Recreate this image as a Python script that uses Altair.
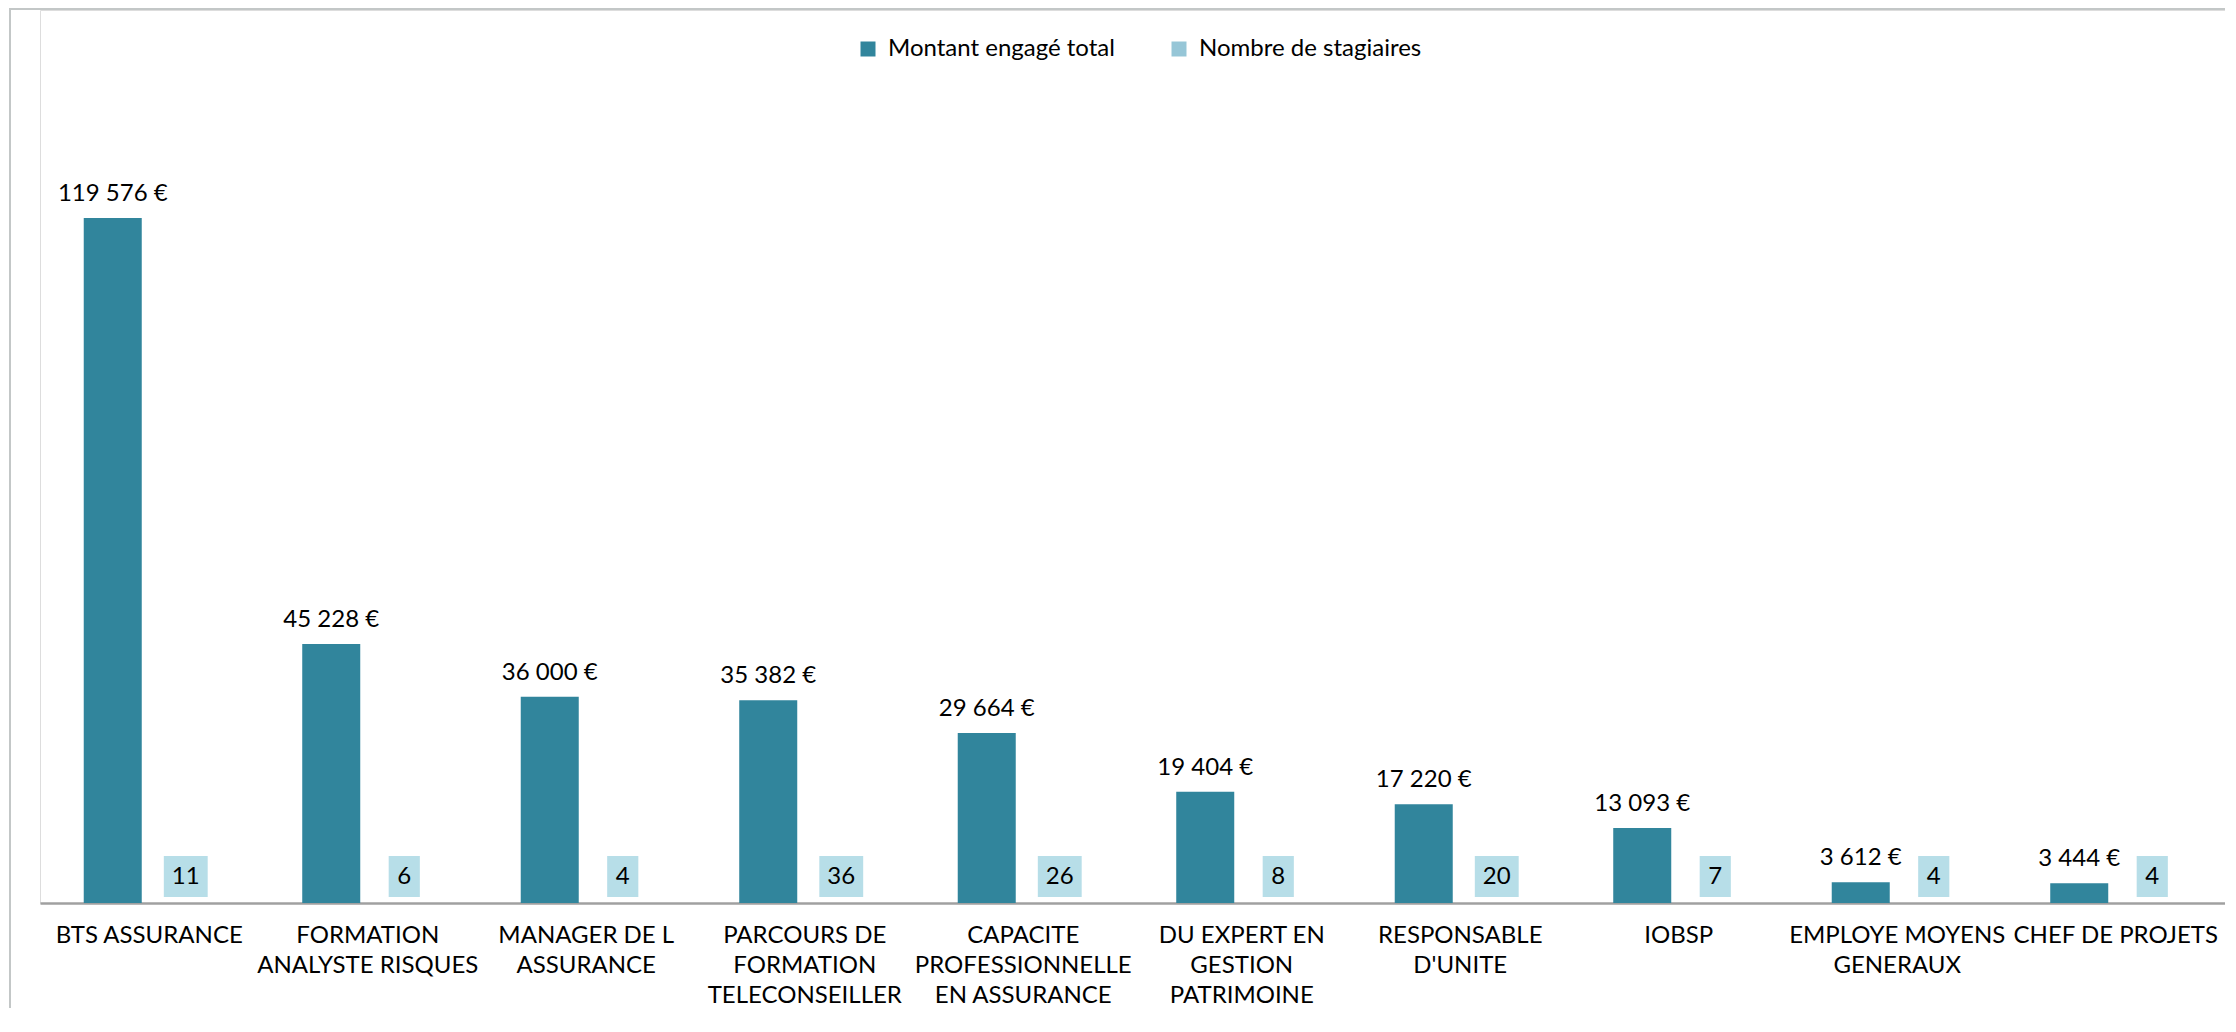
import altair as alt
import pandas as pd

categories = [
    "BTS ASSURANCE",
    "FORMATION|ANALYSTE RISQUES",
    "MANAGER DE L|ASSURANCE",
    "PARCOURS DE|FORMATION|TELECONSEILLER",
    "CAPACITE|PROFESSIONNELLE|EN ASSURANCE",
    "DU EXPERT EN|GESTION|PATRIMOINE",
    "RESPONSABLE|D'UNITE",
    "IOBSP",
    "EMPLOYE MOYENS|GENERAUX",
    "CHEF DE PROJETS",
]
montants = [119576, 45228, 36000, 35382, 29664, 19404, 17220, 13093, 3612, 3444]
stagiaires = [11, 6, 4, 36, 26, 8, 20, 7, 4, 4]
series = ["Montant engagé total", "Nombre de stagiaires"]

rows = []
for c, m, s in zip(categories, montants, stagiaires):
    rows.append({"categorie": c, "serie": series[0], "valeur": m})
    rows.append({"categorie": c, "serie": series[1], "valeur": s})
df = pd.DataFrame(rows)

FONT = "Lato"
DARK = "#31859C"
LIGHT_LEG = "#96C6D7"
BOX = "#B7DEE8"

W, H = 2185, 893
PAD = {"left": 32, "top": 2, "right": 0, "bottom": 105}

x_enc = alt.X(
    "categorie:N",
    sort=categories,
    scale=alt.Scale(domain=categories, paddingInner=0, paddingOuter=0),
    axis=alt.Axis(
        title=None,
        labelAngle=0,
        ticks=False,
        domainColor="#A0A0A0",
        domainWidth=2.5,
        labelFont=FONT,
        labelFontSize=24,
        labelColor="#000000",
        labelPadding=20,
        labelLineHeight=30,
        labelLimit=0,
        labelOverlap=False,
        labelBound=False,
        labelExpr="split(datum.label, '|')",
    ),
)
xoff_enc = alt.XOffset(
    "serie:N",
    scale=alt.Scale(domain=series, paddingInner=0.2055, paddingOuter=0.599),
)
y_scale = alt.Scale(domain=[0, 155900], nice=False, zero=True)

base = alt.Chart(df)

bars = base.transform_filter(alt.datum.serie == series[0]).mark_bar().encode(
    x=x_enc,
    xOffset=xoff_enc,
    y=alt.Y("valeur:Q", scale=y_scale, axis=None),
    color=alt.Color(
        "serie:N",
        scale=alt.Scale(domain=series, range=[DARK, LIGHT_LEG]),
        legend=alt.Legend(
            title=None,
            orient="none",
            direction="horizontal",
            legendX=816,
            legendY=27,
            symbolType="square",
            symbolSize=225,
            symbolStrokeWidth=0,
            symbolOpacity=1,
            labelFont=FONT,
            labelFontSize=24,
            labelColor="#000000",
            labelOffset=8,
            labelLimit=0,
            columnPadding=52,
            padding=0,
        ),
    ),
)

montant_labels = (
    base.transform_filter(alt.datum.serie == series[0])
    .transform_calculate(
        lab="replace(format(datum.valeur, ','), regexp(',', 'g'), ' ') + ' €'"
    )
    .mark_text(font=FONT, fontSize=24, color="#000000", baseline="alphabetic", dy=-17)
    .encode(
        x=x_enc,
        xOffset=xoff_enc,
        y=alt.Y("valeur:Q", scale=y_scale, axis=None),
        text="lab:N",
    )
)

narrow = "M-0.76,-1H0.76V1H-0.76Z"
wide = "M-1.07,-1H1.07V1H-1.07Z"

boxes = (
    base.transform_filter(alt.datum.serie == series[1])
    .mark_point(filled=True, size=1681, opacity=1, color=BOX, strokeWidth=0, yOffset=-26.5)
    .encode(
        x=x_enc,
        xOffset=xoff_enc,
        y=alt.datum(0, scale=y_scale),
        shape=alt.when(alt.datum.valeur >= 10).then(alt.value(wide)).otherwise(alt.value(narrow)),
    )
)

box_text = (
    base.transform_filter(alt.datum.serie == series[1])
    .mark_text(font=FONT, fontSize=24, color="#000000", baseline="middle", yOffset=-26)
    .encode(
        x=x_enc,
        xOffset=xoff_enc,
        y=alt.datum(0, scale=y_scale),
        text="valeur:Q",
    )
)

one = pd.DataFrame({"k": [0]})
frame_top = alt.Chart(one).mark_rule(color="#C3C7C7", strokeWidth=2).encode(
    x=alt.value(-31), x2=alt.value(W + PAD["right"]), y=alt.value(-1)
)
frame_left = alt.Chart(one).mark_rule(color="#C3C7C7", strokeWidth=2).encode(
    x=alt.value(-30), y=alt.value(-1), y2=alt.value(H + PAD["bottom"])
)

chart = (
    alt.layer(bars, montant_labels, boxes, box_text, frame_top, frame_left)
    .properties(
        width=W,
        height=H,
        padding=PAD,
        autosize=alt.AutoSizeParams(type="none"),
    )
    .configure_view(strokeWidth=0)
    .configure(font=FONT)
)

chart.save("out.html", embed_options={"renderer": "svg", "actions": False})
